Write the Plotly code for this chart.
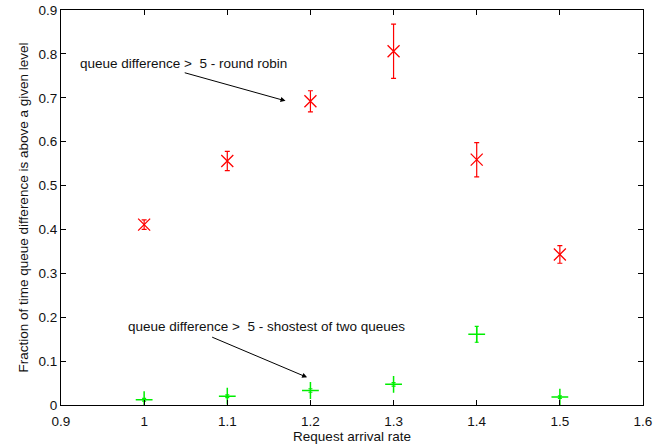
import plotly.graph_objects as go

# Data
rates = [1.0, 1.1, 1.2, 1.3, 1.4, 1.5]
round_robin = [0.411, 0.556, 0.692, 0.806, 0.559, 0.343]
round_robin_err = [0.011, 0.022, 0.024, 0.062, 0.039, 0.020]
shortest_two = [0.012, 0.020, 0.033, 0.047, 0.161, 0.018]
shortest_two_err = [0.003, 0.003, 0.004, 0.004, 0.018, 0.003]

x_ticks = [0.9, 1.0, 1.1, 1.2, 1.3, 1.4, 1.5, 1.6]
y_ticks = [0, 0.1, 0.2, 0.3, 0.4, 0.5, 0.6, 0.7, 0.8, 0.9]

label_rr = "queue difference &gt;&nbsp; 5 - round robin"
label_st = "queue difference &gt;&nbsp; 5 - shostest of two queues"

FONT = "Liberation Sans, Arial, Helvetica, sans-serif"
FS = 13.5
TXT = "#111"

fig = go.Figure()
fig.add_trace(go.Scatter(
    x=rates, y=round_robin, mode="markers",
    marker=dict(symbol="x-thin", size=12, line=dict(color="#ff0000", width=1.3)),
    error_y=dict(type="data", array=round_robin_err, color="#ff0000", thickness=1.2, width=2.5),
    showlegend=False,
))
fig.add_trace(go.Scatter(
    x=rates, y=shortest_two, mode="markers",
    marker=dict(symbol="cross-thin", size=12, line=dict(color="#00ee00", width=1.5)),
    error_y=dict(type="data", array=shortest_two_err, color="#00ee00", thickness=1.2, width=2),
    showlegend=False,
))

# text labels
fig.add_annotation(x=1.047, y=0.777, xref="x", yref="y", text=label_rr, showarrow=False,
                   font=dict(family=FONT, size=FS, color=TXT))
fig.add_annotation(x=1.147, y=0.178, xref="x", yref="y", text=label_st, showarrow=False,
                   font=dict(family=FONT, size=FS, color=TXT))
# arrows
fig.add_annotation(x=1.170, y=0.693, ax=1.047, ay=0.758, xref="x", yref="y", axref="x", ayref="y",
                   text="", showarrow=True, arrowhead=2, arrowsize=1, arrowwidth=1, arrowcolor="#000")
fig.add_annotation(x=1.196, y=0.063, ax=1.080, ay=0.156, xref="x", yref="y", axref="x", ayref="y",
                   text="", showarrow=True, arrowhead=2, arrowsize=1, arrowwidth=1, arrowcolor="#000")

axis_common = dict(
    showline=True, linecolor="#000", linewidth=1, mirror="ticks",
    ticks="inside", ticklen=5, tickcolor="#000", tickwidth=1,
    showgrid=False, zeroline=False, automargin=False,
    tickfont=dict(family=FONT, size=FS, color=TXT),
)
fig.update_xaxes(range=[0.9, 1.6], tickvals=x_ticks, tickformat="~g", ticklabelstandoff=4,
                 title=dict(text="Request arrival rate", font=dict(family=FONT, size=FS, color=TXT), standoff=3),
                 **axis_common)
fig.update_yaxes(range=[0, 0.9], tickvals=y_ticks, tickformat="~g",
                 title=dict(text="Fraction of time queue difference is above a given level",
                            font=dict(family=FONT, size=FS, color=TXT), standoff=6),
                 **axis_common)

fig.update_layout(
    width=665, height=448,
    margin=dict(l=61, r=22, t=10, b=43),
    plot_bgcolor="white", paper_bgcolor="white",
)

fig.write_html("out.html")
